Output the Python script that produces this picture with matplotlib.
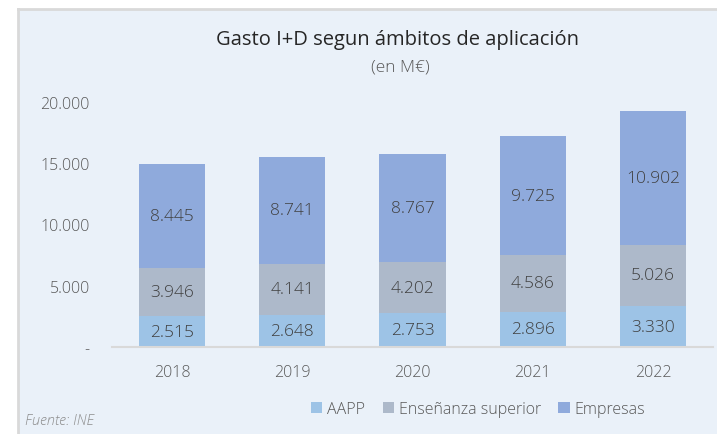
import matplotlib.pyplot as plt
import numpy as np

years = ['2018', '2019', '2020', '2021', '2022']
aapp = [2515, 2648, 2753, 2896, 3330]
ensenanza = [3946, 4141, 4202, 4586, 5026]
empresas = [8445, 8741, 8767, 9725, 10902]
series_names = ['AAPP', 'Enseñanza superior', 'Empresas']
colors = ['#9DC3E6', '#ADB9CA', '#8FAADC']
yticks = [0, 5000, 10000, 15000, 20000]

plt.rcParams['font.family'] = ['Open Sans', 'DejaVu Sans']
plt.rcParams['font.weight'] = 'light'


def fmt(v):
    if v == 0:
        return '-'
    return f'{v:,.0f}'.replace(',', '.')


fig = plt.figure(figsize=(7.17, 4.35), dpi=100)
fig.patch.set_facecolor('white')

# light blue panel behind everything
bg = fig.add_axes([18 / 717, -0.05, 1.0, 425 / 435 + 0.05], zorder=-1)
bg.set_facecolor('#EAF1F9')
bg.set_xticks([])
bg.set_yticks([])
for s in bg.spines.values():
    s.set_color('#D9D9D9')
    s.set_linewidth(2)

ax = fig.add_axes([112 / 717, 87 / 435, 601 / 717, 245 / 435])
ax.set_facecolor('none')

x = np.arange(len(years))
bottom = np.zeros(len(years))
for vals, name, c in zip([aapp, ensenanza, empresas], series_names, colors):
    bars = ax.bar(x, vals, 0.55, bottom=bottom, color=c, label=name, zorder=2)
    for b, v, bt in zip(bars, vals, bottom):
        ax.text(b.get_x() + b.get_width() / 2, bt + v / 2, fmt(v),
                ha='center', va='center', fontsize=12.5, color='#404040', zorder=3)
    bottom += np.array(vals)

ax.set_xlim(-0.5, len(years) - 0.5)
ax.set_ylim(0, 20000)
ax.set_xticks(x)
ax.set_xticklabels(years)
ax.set_yticks(yticks)
ax.set_yticklabels([fmt(v) for v in yticks])
ax.tick_params(axis='both', length=0, labelsize=11.5, labelcolor='#595959')
ax.tick_params(axis='y', pad=16)
ax.tick_params(axis='x', pad=12)
for s in ['top', 'right', 'left']:
    ax.spines[s].set_visible(False)
ax.spines['bottom'].set_color('#D9D9D9')
ax.spines['bottom'].set_linewidth(1.5)

fig.text(398 / 717, 1 - 40 / 435, 'Gasto I+D segun ámbitos de aplicación',
         ha='center', va='center', fontsize=14.5, color='#262626',
         fontweight='normal')
fig.text(400 / 717, 1 - 68 / 435, '(en M€)', ha='center', va='center',
         fontsize=12.5, color='#595959')
fig.text(25 / 717, 1 - 421 / 435, 'Fuente: INE', ha='left', va='center',
         fontsize=10.5, style='italic', color='#8C8C8C')

fig.legend(loc='center', bbox_to_anchor=(478 / 717, 1 - 410 / 435), ncol=3,
           frameon=False, fontsize=11.5, handlelength=0.7, handleheight=0.7,
           handletextpad=0.3, columnspacing=1.1, labelcolor='#595959')

fig.savefig('out.png', dpi=100, facecolor=fig.get_facecolor())
